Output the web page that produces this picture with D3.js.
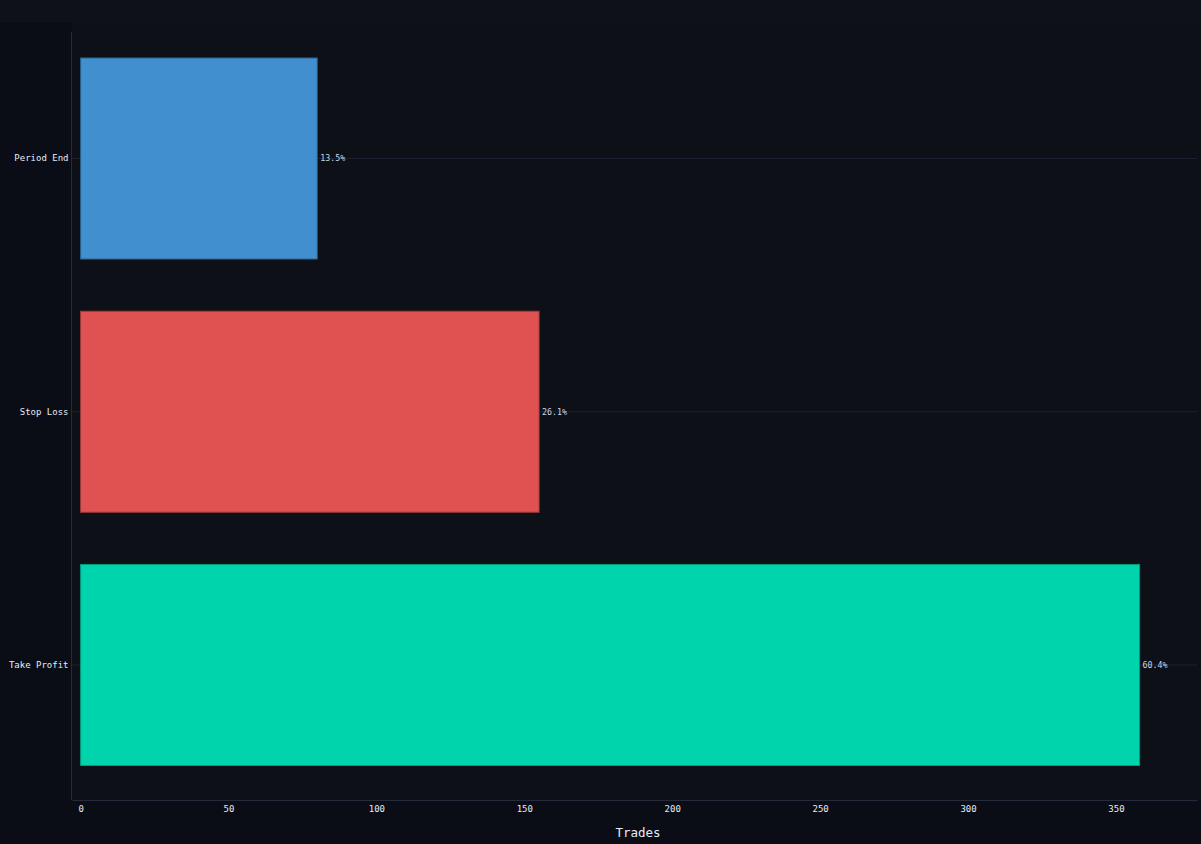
<!DOCTYPE html>
<html lang="en">
<head>
<meta charset="UTF-8">
<title>Exit reasons</title>
<script src="https://d3js.org/d3.v7.min.js"></script>
<style>
  html, body { margin: 0; padding: 0; background: #0a0d16; }
  svg { display: block; }
  text { font-family: "DejaVu Sans Mono", monospace; }
  .tick text { fill: #e6ecf5; font-size: 9px; }
  .bar-label { fill: #c9d6ea; font-size: 8.3px; }
  .axis-title { fill: #e6ecf5; font-size: 12.5px; }
</style>
</head>
<body>
<svg id="chart" width="1201" height="844"></svg>
<script>
const categories = ["Period End", "Stop Loss", "Take Profit"];
const trades = [80, 155, 358];
const shares = ["13.5%", "26.1%", "60.4%"];
const xTicks = [0, 50, 100, 150, 200, 250, 300, 350];
const colors = ["#418fcf", "#e05252", "#00d4ac"];
const strokes = ["#2a5f8c", "#9a3a3a", "#009a7c"];

const W = 1201, H = 844;
const plot = {left: 72, right: 1197, top: 31.9, bottom: 791.6, axisY: 800};

const svg = d3.select("#chart");

// backgrounds
svg.append("rect").attr("width", W).attr("height", H).attr("fill", "#0a0d16");
svg.append("rect").attr("width", W).attr("height", 22).attr("fill", "#0e1119");
svg.append("rect").attr("x", plot.left).attr("y", 22)
   .attr("width", W - plot.left).attr("height", plot.axisY - 22).attr("fill", "#0d1017");

const x = d3.scaleLinear().domain([-2.9, 377.4]).range([plot.left, plot.right]);
const y = d3.scaleBand().domain(categories).range([plot.top, plot.bottom])
   .paddingInner(0.206).paddingOuter(0.103);

// gridlines at category centres
svg.append("g").selectAll("line").data(categories).join("line")
   .attr("x1", plot.left).attr("x2", plot.right)
   .attr("y1", d => y(d) + y.bandwidth() / 2)
   .attr("y2", d => y(d) + y.bandwidth() / 2)
   .attr("stroke", "#1e2233").attr("stroke-width", 1);

// bars
svg.append("g").selectAll("rect").data(categories).join("rect")
   .attr("x", x(0))
   .attr("y", d => y(d))
   .attr("width", (d, i) => x(trades[i]) - x(0))
   .attr("height", y.bandwidth())
   .attr("fill", (d, i) => colors[i])
   .attr("stroke", (d, i) => strokes[i])
   .attr("stroke-width", 1);

// value labels
svg.append("g").selectAll("text").data(categories).join("text")
   .attr("class", "bar-label")
   .attr("x", (d, i) => x(trades[i]) + 3)
   .attr("y", d => y(d) + y.bandwidth() / 2)
   .attr("dy", "0.35em")
   .text((d, i) => shares[i]);

// x axis
const xAxis = svg.append("g")
   .attr("transform", `translate(0,${plot.axisY})`)
   .call(d3.axisBottom(x).tickValues(xTicks).tickSize(0).tickPadding(6));
xAxis.select(".domain").attr("stroke", "#252b3a");

// y axis
const yAxis = svg.append("g")
   .attr("transform", `translate(${plot.left - 0.5},0)`)
   .call(d3.axisLeft(y).tickSize(0).tickPadding(3));
yAxis.select(".domain").remove();
svg.append("line")
   .attr("x1", plot.left - 0.5).attr("x2", plot.left - 0.5)
   .attr("y1", 32).attr("y2", plot.axisY)
   .attr("stroke", "#252b3a");

svg.append("text")
   .attr("class", "axis-title")
   .attr("x", 638)
   .attr("y", 837)
   .attr("text-anchor", "middle")
   .text("Trades");
</script>
</body>
</html>
